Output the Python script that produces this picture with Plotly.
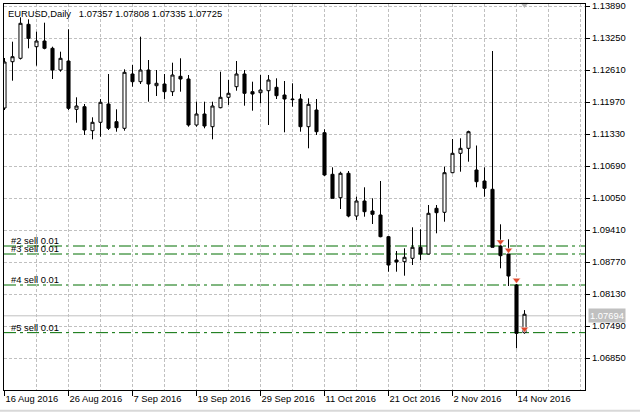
import plotly.graph_objects as go
import pandas as pd

symbol = "EURUSD,Daily"
dates = pd.bdate_range("2016-08-16", "2016-11-15")

opens = [1.1185, 1.12776, 1.12844, 1.13524, 1.13076, 1.1319, 1.13044, 1.1261, 1.1279, 1.11824,
         1.11876, 1.11396, 1.11564, 1.1193, 1.11576, 1.11444, 1.1253, 1.12376, 1.1261, 1.12296,
         1.1233, 1.12176, 1.12484, 1.1243, 1.1151, 1.1173, 1.11476, 1.11856, 1.12064, 1.12276,
         1.1253, 1.12176, 1.12156, 1.12196, 1.12264, 1.1211, 1.1203, 1.1203, 1.11476, 1.1181,
         1.11356, 1.10524, 1.10056, 1.10544, 1.0969, 1.0999, 1.0979, 1.0971, 1.09276, 1.0881,
         1.08776, 1.08844, 1.09064, 1.0893, 1.09844, 1.09764, 1.10556, 1.10944, 1.11044, 1.1061,
         1.1039, 1.10224, 1.0909, 1.0893, 1.0831, 1.07357]
highs = [1.1285, 1.13176, 1.13664, 1.13624, 1.13376, 1.13556, 1.13076, 1.12976, 1.13424, 1.12064,
         1.1193, 1.11664, 1.1203, 1.1253, 1.11824, 1.12624, 1.1271, 1.13276, 1.1281, 1.1261,
         1.1253, 1.12756, 1.12844, 1.1251, 1.11976, 1.11976, 1.11976, 1.12576, 1.1241, 1.1279,
         1.1261, 1.12376, 1.1251, 1.1251, 1.12444, 1.1239, 1.12344, 1.1213, 1.12044, 1.1203,
         1.11424, 1.10664, 1.10576, 1.1059, 1.10076, 1.10264, 1.10044, 1.1039, 1.0929, 1.0899,
         1.09044, 1.09464, 1.09424, 1.0991, 1.0991, 1.10676, 1.1123, 1.11244, 1.11396, 1.111,
         1.10664, 1.1299, 1.09524, 1.09224, 1.0833, 1.07808]
lows = [1.1181, 1.12396, 1.1282, 1.13044, 1.12696, 1.13024, 1.1243, 1.12576, 1.1181, 1.11556,
        1.1131, 1.11224, 1.11276, 1.1141, 1.11376, 1.11396, 1.12276, 1.1233, 1.11976, 1.1209,
        1.1203, 1.1209, 1.12176, 1.11476, 1.11476, 1.11444, 1.11224, 1.11844, 1.1191, 1.12196,
        1.11896, 1.11796, 1.11944, 1.1151, 1.1203, 1.11364, 1.11876, 1.11376, 1.11044, 1.1131,
        1.1049, 1.10044, 1.0983, 1.09664, 1.0961, 1.09676, 1.0953, 1.09264, 1.08576, 1.08576,
        1.08496, 1.0871, 1.0881, 1.08924, 1.09344, 1.09576, 1.10544, 1.10576, 1.10776, 1.10264,
        1.10076, 1.09064, 1.08644, 1.0829, 1.07044, 1.07335]
closes = [1.1277, 1.12876, 1.13544, 1.13244, 1.1319, 1.13044, 1.1261, 1.12844, 1.11844, 1.1189,
          1.1141, 1.11564, 1.11964, 1.11444, 1.11456, 1.12564, 1.12376, 1.1261, 1.1233, 1.12344,
          1.12176, 1.1251, 1.1243, 1.1151, 1.1173, 1.1149, 1.1189, 1.12064, 1.12144, 1.1253,
          1.12144, 1.1213, 1.1221, 1.1241, 1.12096, 1.1203, 1.12018, 1.11476, 1.11924, 1.11376,
          1.1051, 1.10044, 1.10544, 1.0969, 1.0999, 1.09776, 1.09724, 1.09276, 1.0871, 1.0877,
          1.08864, 1.09064, 1.0893, 1.09744, 1.09756, 1.10556, 1.10944, 1.11044, 1.11376, 1.10376,
          1.10244, 1.09064, 1.08896, 1.0849, 1.07344, 1.07725]

x_labels = ["16 Aug 2016", "26 Aug 2016", "7 Sep 2016", "19 Sep 2016", "29 Sep 2016",
            "11 Oct 2016", "21 Oct 2016", "2 Nov 2016", "14 Nov 2016"]
label_dates = ["2016-08-16", "2016-08-26", "2016-09-07", "2016-09-19", "2016-09-29",
               "2016-10-11", "2016-10-21", "2016-11-02", "2016-11-14"]
price_ticks = [1.06850, 1.07490, 1.08130, 1.08770, 1.09410, 1.10050,
               1.10690, 1.11330, 1.11970, 1.12610, 1.13250, 1.13890]

order_labels = ["#2 sell 0.01", "#3 sell 0.01", "#4 sell 0.01", "#5 sell 0.01"]
order_prices = [1.0909, 1.0893, 1.0831, 1.07357]
arrow_dates = ["2016-11-10", "2016-11-11", "2016-11-14", "2016-11-15"]
arrow_prices = [1.09176, 1.0901, 1.0841, 1.0743]
bid_price = 1.07694

FONT = "Liberation Sans"
FS = 9.4
GRID = "#c0c0c0"

date_strs = [d.strftime("%Y-%m-%d") for d in dates]
idx = list(range(len(date_strs)))
label_idx = [date_strs.index(d) for d in label_dates]
arrow_idx = [date_strs.index(d) for d in arrow_dates]

fig = go.Figure()
fig.add_trace(go.Candlestick(
    x=idx, open=opens, high=highs, low=lows, close=closes,
    increasing=dict(line=dict(color="black", width=1), fillcolor="white"),
    decreasing=dict(line=dict(color="black", width=1), fillcolor="black"),
    whiskerwidth=0, showlegend=False, hoverinfo="skip"))

fig.add_trace(go.Scatter(
    x=arrow_idx, y=arrow_prices, mode="markers",
    marker=dict(symbol="triangle-down", size=7, color="#e0472a",
                line=dict(color="white", width=0.5)),
    showlegend=False, hoverinfo="skip"))

# shift marker at top
fig.add_trace(go.Scatter(
    x=[idx[-1]], y=[1.1392], mode="markers",
    marker=dict(symbol="triangle-down", size=7, color="#b4b4b4"),
    showlegend=False, hoverinfo="skip", cliponaxis=False))

shapes = []
for p in order_prices:
    shapes.append(dict(type="line", xref="paper", x0=0, x1=1, yref="y", y0=p, y1=p,
                       line=dict(color="#006e00", width=1, dash="12px,4px,3px,4px"),
                       layer="below"))
shapes.append(dict(type="line", xref="paper", x0=0, x1=1, yref="y", y0=bid_price, y1=bid_price,
                   line=dict(color="#c0c0c0", width=1), layer="below"))
# window border at bottom
shapes.append(dict(type="line", xref="paper", x0=-0.01, x1=1.1, yref="paper", y0=-0.054, y1=-0.054,
                   line=dict(color="#d8d8d8", width=2)))

annotations = []
for t, p in zip(order_labels, order_prices):
    annotations.append(dict(text=t, xref="paper", x=0, xanchor="left", xshift=6,
                            yref="y", y=p, yanchor="bottom", yshift=-1, showarrow=False,
                            font=dict(family=FONT, size=FS, color="black"), borderpad=0))
header = f"{symbol}\u00a0\u00a0 {opens[-1]:.5f} {highs[-1]:.5f} {lows[-1]:.5f} {closes[-1]:.5f}"
annotations.append(dict(text=header, xref="paper", x=0, xanchor="left", xshift=3,
                        yref="paper", y=1, yanchor="top", yshift=-3, showarrow=False,
                        font=dict(family=FONT, size=FS, color="black"), borderpad=0))
annotations.append(dict(text=f"{bid_price:.5f}", xref="paper", x=1, xanchor="left", xshift=3,
                        yref="y", y=bid_price, yanchor="middle", showarrow=False,
                        bgcolor="#c0c0c0", borderpad=1,
                        font=dict(family=FONT, size=FS, color="white")))

fig.update_layout(
    width=640, height=413,
    margin=dict(l=4, r=55, t=4, b=23, autoexpand=False),
    paper_bgcolor="white", plot_bgcolor="white",
    showlegend=False, boxgap=0.45,
    shapes=shapes, annotations=annotations,
    font=dict(family=FONT, size=FS, color="black"),
    xaxis=dict(
        range=[-0.0625, 72.5625], rangeslider=dict(visible=False), automargin=False,
        tickmode="array", tickvals=label_idx, ticktext=x_labels,
        ticks="outside", ticklen=5, tickcolor="black", tickwidth=1,
        ticklabelposition="outside right",
        showline=True, linecolor="black", linewidth=1, mirror=True,
        showgrid=True, gridcolor=GRID, griddash="3px,2px", gridwidth=1,
        minor=dict(tickmode="linear", tick0=0, dtick=4, showgrid=True,
                   gridcolor=GRID, griddash="3px,2px", ticks=""),
        zeroline=False, tickfont=dict(family=FONT, size=FS, color="black"),
    ),
    yaxis=dict(
        side="right", range=[1.0621, 1.1393], automargin=False,
        tickmode="array", tickvals=price_ticks, ticktext=[f"{v:.5f}" for v in price_ticks],
        ticks="outside", ticklen=4, tickcolor="black", tickwidth=1,
        showline=True, linecolor="black", linewidth=1, mirror=True,
        showgrid=True, gridcolor=GRID, griddash="3px,2px", gridwidth=1,
        zeroline=False, tickfont=dict(family=FONT, size=FS, color="black"),
    ),
)

fig.write_html("out.html", config={"displayModeBar": False},
               post_script="document.body.style.margin='0';document.body.style.padding='0';")
